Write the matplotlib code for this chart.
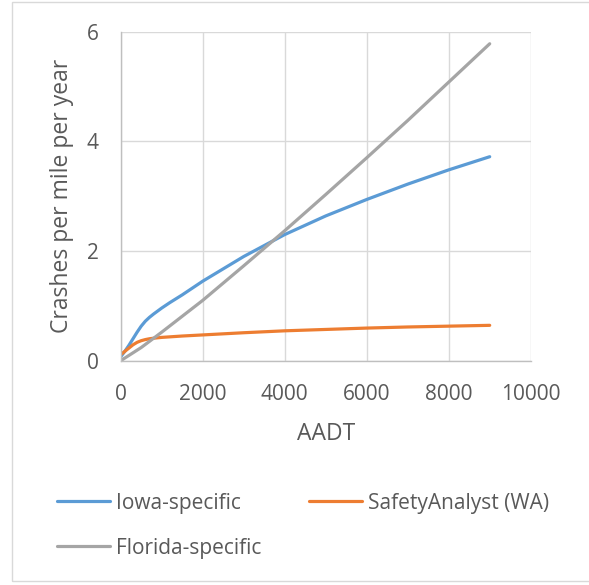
import matplotlib
matplotlib.use("Agg")
import matplotlib.pyplot as plt
from matplotlib.patches import Rectangle

# Data
aadt_iowa = [0, 100, 200, 300, 400, 500, 600, 700, 800, 1000, 1200, 1500, 2000,
             3000, 4000, 5000, 6000, 7000, 8000, 9000]
iowa = [0.07, 0.17, 0.28, 0.40, 0.52, 0.63, 0.72, 0.79, 0.85, 0.96, 1.06, 1.20, 1.45,
        1.90, 2.30, 2.64, 2.94, 3.22, 3.48, 3.72]
aadt_sa = [0, 100, 200, 300, 400, 500, 600, 700, 800, 1000, 1500, 2000,
           3000, 4000, 5000, 6000, 7000, 8000, 9000]
safety = [0.11, 0.17, 0.23, 0.29, 0.335, 0.365, 0.385, 0.40, 0.41, 0.425, 0.45, 0.47,
          0.51, 0.545, 0.57, 0.595, 0.615, 0.63, 0.645]
aadt_fl = [0, 500, 1000, 2000, 3000, 4000, 5000, 6000, 7000, 8000, 9000]
florida = [0.0, 0.24, 0.52, 1.10, 1.73, 2.37, 3.03, 3.70, 4.38, 5.08, 5.78]

xticks = [0, 2000, 4000, 6000, 8000, 10000]
yticks = [0, 2, 4, 6]

labels = ["Iowa-specific", "SafetyAnalyst (WA)", "Florida-specific"]
colors = ["#5B9BD5", "#ED7D31", "#A5A5A5"]

plt.rcParams['font.family'] = ['Open Sans', 'DejaVu Sans']
txt = "#595959"
W, H = 589, 585

fig = plt.figure(figsize=(5.89, 5.85), dpi=100)
ax = fig.add_axes([120.7/W, 1-360.7/H, (530.7-120.7)/W, (360.7-31.7)/H])

l1, = ax.plot(aadt_iowa, iowa, color=colors[0], lw=2.3, solid_capstyle='round', solid_joinstyle='round')
l2, = ax.plot(aadt_sa, safety, color=colors[1], lw=2.3, solid_capstyle='round', solid_joinstyle='round')
l3, = ax.plot(aadt_fl, florida, color=colors[2], lw=2.3, solid_capstyle='round', solid_joinstyle='round')

ax.set_xlim(0, 10000)
ax.set_ylim(0, 6)
ax.set_xticks(xticks)
ax.set_yticks(yticks)
ax.grid(True, color="#D9D9D9", lw=1.0)
ax.set_axisbelow(True)
for s in ["top", "right"]:
    ax.spines[s].set_visible(False)
for s in ["left", "bottom"]:
    ax.spines[s].set_color("#BFBFBF")
    ax.spines[s].set_linewidth(1.0)
ax.tick_params(length=0, colors=txt, labelsize=15)
ax.tick_params(axis='x', pad=16.5)
ax.tick_params(axis='y', pad=16)

ax.set_xlabel("AADT", fontsize=16.5, color=txt, va='center')
ax.xaxis.set_label_coords(325.7/W, 1-434/H, transform=fig.transFigure)
ax.set_ylabel("Crashes per mile per year", fontsize=16.5, color=txt, va='center')
ax.yaxis.set_label_coords(62/W, 1-196/H, transform=fig.transFigure)

leg = fig.legend([l1, l3, l2], [labels[0], labels[2], labels[1]], ncol=2,
                 loc='upper left', bbox_to_anchor=(56.7/W, 1-492.6/H),
                 frameon=False, fontsize=15, handlelength=2.55, handletextpad=0.29,
                 columnspacing=2.3, labelspacing=1.16, borderpad=0, borderaxespad=0,
                 labelcolor=txt)
for h in leg.get_lines():
    h.set_linewidth(2.3)

fig.patches.append(Rectangle((12/W, 1-581/H), (590-12)/W, (581-2)/H,
                             transform=fig.transFigure, fill=False,
                             edgecolor="#D9D9D9", lw=1.0))

fig.savefig("out.png", dpi=100)
